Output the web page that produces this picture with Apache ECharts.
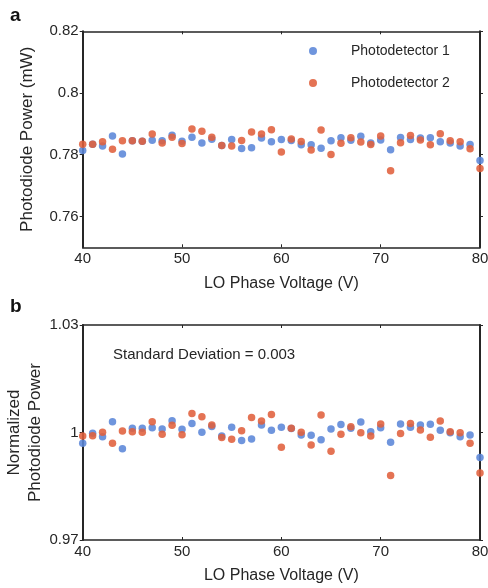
<!DOCTYPE html>
<html>
<head>
<meta charset="utf-8">
<script src="https://cdn.jsdelivr.net/npm/echarts@6/dist/echarts.min.js"></script>
<style>
html,body{margin:0;padding:0;background:#fff;}
#c{width:488px;height:588px;}
</style>
</head>
<body>
<div id="c"></div>
<script>
// LO phase voltage (V)
var voltages = [40,41,42,43,44,45,46,47,48,49,50,51,52,53,54,55,56,57,58,59,60,
                61,62,63,64,65,66,67,68,69,70,71,72,73,74,75,76,77,78,79,80];

// Panel a: photodiode power (mW)
var powerPD1 = [0.7814,0.7834,0.7828,0.7861,0.7802,0.7845,0.7844,0.7847,0.7845,0.7863,
                0.7844,0.7857,0.7838,0.7850,0.7830,0.7849,0.7820,0.7823,0.7854,0.7842,
                0.7849,0.7846,0.7832,0.7832,0.7821,0.7845,0.7855,0.7847,0.7860,0.7838,
                0.7848,0.7816,0.7856,0.7849,0.7854,0.7855,0.7842,0.7838,0.7828,0.7833,
                0.7781];
var powerPD2 = [0.7834,0.7834,0.7842,0.7818,0.7845,0.7845,0.7844,0.7867,0.7838,0.7857,
                0.7836,0.7883,0.7876,0.7857,0.7830,0.7828,0.7846,0.7874,0.7867,0.7881,
                0.7809,0.7851,0.7843,0.7815,0.7880,0.7801,0.7837,0.7855,0.7841,0.7833,
                0.7861,0.7748,0.7839,0.7862,0.7848,0.7832,0.7868,0.7845,0.7842,0.7819,
                0.7755];

// Panel b: normalized photodiode power
var normPD1 = [0.9970,0.9998,0.9988,1.0030,0.9955,1.0012,1.0012,1.0013,1.0010,1.0033,
               1.0009,1.0025,1.0001,1.0017,0.9990,1.0015,0.9978,0.9982,1.0021,1.0006,
               1.0015,1.0011,0.9993,0.9992,0.9980,1.0010,1.0022,1.0012,1.0029,1.0002,
               1.0013,0.9973,1.0024,1.0015,1.0021,1.0023,1.0006,0.9999,0.9988,0.9993,
               0.9930];
var normPD2 = [0.9990,0.9991,1.0001,0.9970,1.0004,1.0002,1.0001,1.0030,0.9995,1.0020,
               0.9994,1.0053,1.0044,1.0021,0.9986,0.9981,1.0005,1.0042,1.0032,1.0050,
               0.9959,1.0012,1.0001,0.9965,1.0049,0.9948,0.9995,1.0016,0.9999,0.9990,
               1.0024,0.9880,0.9997,1.0025,1.0007,0.9987,1.0032,1.0002,0.9999,0.9970,
               0.9887];

var xTicks = [40,50,60,70,80];
var yTicksA = [0.76,0.78,0.8,0.82];
var yTicksB = [0.97,1,1.03];
var seriesNames = ['Photodetector 1','Photodetector 2'];
var annotation = 'Standard Deviation = 0.003';

var BLUE = '#5B86D8', RED = '#E0603C', AX = '#262626';
var FONT = '"Liberation Sans", Arial, sans-serif';

function pairs(xs, ys){ return xs.map(function(x,i){ return [x, ys[i]]; }); }

function xAx(grid, pos, withName){
  return {
    type:'value', gridIndex:grid, position:pos, min:40, max:80, interval:10,
    name: withName ? 'LO Phase Voltage (V)' : '',
    nameLocation:'middle', nameGap:28, nameMoveOverlap:false,
    nameTextStyle:{fontFamily:FONT, fontSize:16, color:AX},
    axisLine:{show:true, onZero:false, lineStyle:{color:AX, width:1.6}},
    axisTick:{show:true, inside:true, length:3, lineStyle:{color:AX, width:1}},
    axisLabel:{show: pos==='bottom', fontFamily:FONT, fontSize:15, color:AX, margin:4},
    splitLine:{show:false}
  };
}
function yAx(grid, pos, min, max, ticks, name, gap){
  return {
    type:'value', gridIndex:grid, position:pos, min:min, max:max,
    name: name || '', nameLocation:'middle', nameGap:gap || 40, nameMoveOverlap:false,
    nameTextStyle:{fontFamily:FONT, fontSize:17, color:AX, lineHeight:21},
    axisLine:{show:true, onZero:false, lineStyle:{color:AX, width:2}},
    axisTick:{show:true, inside:false, length:3, customValues:ticks, lineStyle:{color:AX, width:1}},
    axisLabel:{show: pos==='left', customValues:ticks, fontFamily:FONT, fontSize:15, color:AX, margin:4},
    splitLine:{show:false}
  };
}

var chart = echarts.init(document.getElementById('c'), null, {renderer:'canvas'});
chart.setOption({
  animation:false,
  backgroundColor:'#fff',
  grid:[
    {left:82.7, right:8, top:31.3, height:216, containLabel:false, outerBoundsMode:'none'},
    {left:82.7, right:8, top:325, height:215, containLabel:false, outerBoundsMode:'none'}
  ],
  xAxis:[ xAx(0,'bottom',true), xAx(0,'top',false), xAx(1,'bottom',true), xAx(1,'top',false) ],
  yAxis:[
    yAx(0,'left',0.75,0.82,yTicksA,'Photodiode Power (mW)',45),
    yAx(0,'right',0.75,0.82,yTicksA),
    yAx(1,'left',0.97,1.03,yTicksB,'Normalized\nPhotodiode Power',37),
    yAx(1,'right',0.97,1.03,yTicksB)
  ],
  legend:{
    orient:'vertical', left:304, top:38, itemGap:16,
    icon:'circle', itemWidth:8, itemHeight:8,
    data:seriesNames,
    textStyle:{fontFamily:FONT, fontSize:14, color:AX, padding:[0,0,0,29], lineHeight:16}
  },
  graphic:[
    {type:'text', left:10, top:6, style:{text:'a', font:'bold 19px '+FONT, fill:'#111'}},
    {type:'text', left:10, top:297, style:{text:'b', font:'bold 19px '+FONT, fill:'#111'}},
    {type:'text', left:113, top:347, style:{text:annotation, font:'15px '+FONT, fill:AX}}
  ],
  series:[
    {name:seriesNames[0], type:'scatter', xAxisIndex:0, yAxisIndex:0, symbolSize:7.5,
     itemStyle:{color:BLUE, opacity:0.88}, data:pairs(voltages, powerPD1)},
    {name:seriesNames[1], type:'scatter', xAxisIndex:0, yAxisIndex:0, symbolSize:7.5,
     itemStyle:{color:RED, opacity:0.88}, data:pairs(voltages, powerPD2)},
    {name:seriesNames[0], type:'scatter', xAxisIndex:2, yAxisIndex:2, symbolSize:7.5,
     itemStyle:{color:BLUE, opacity:0.88}, data:pairs(voltages, normPD1)},
    {name:seriesNames[1], type:'scatter', xAxisIndex:2, yAxisIndex:2, symbolSize:7.5,
     itemStyle:{color:RED, opacity:0.88}, data:pairs(voltages, normPD2)}
  ]
});
</script>
</body>
</html>
